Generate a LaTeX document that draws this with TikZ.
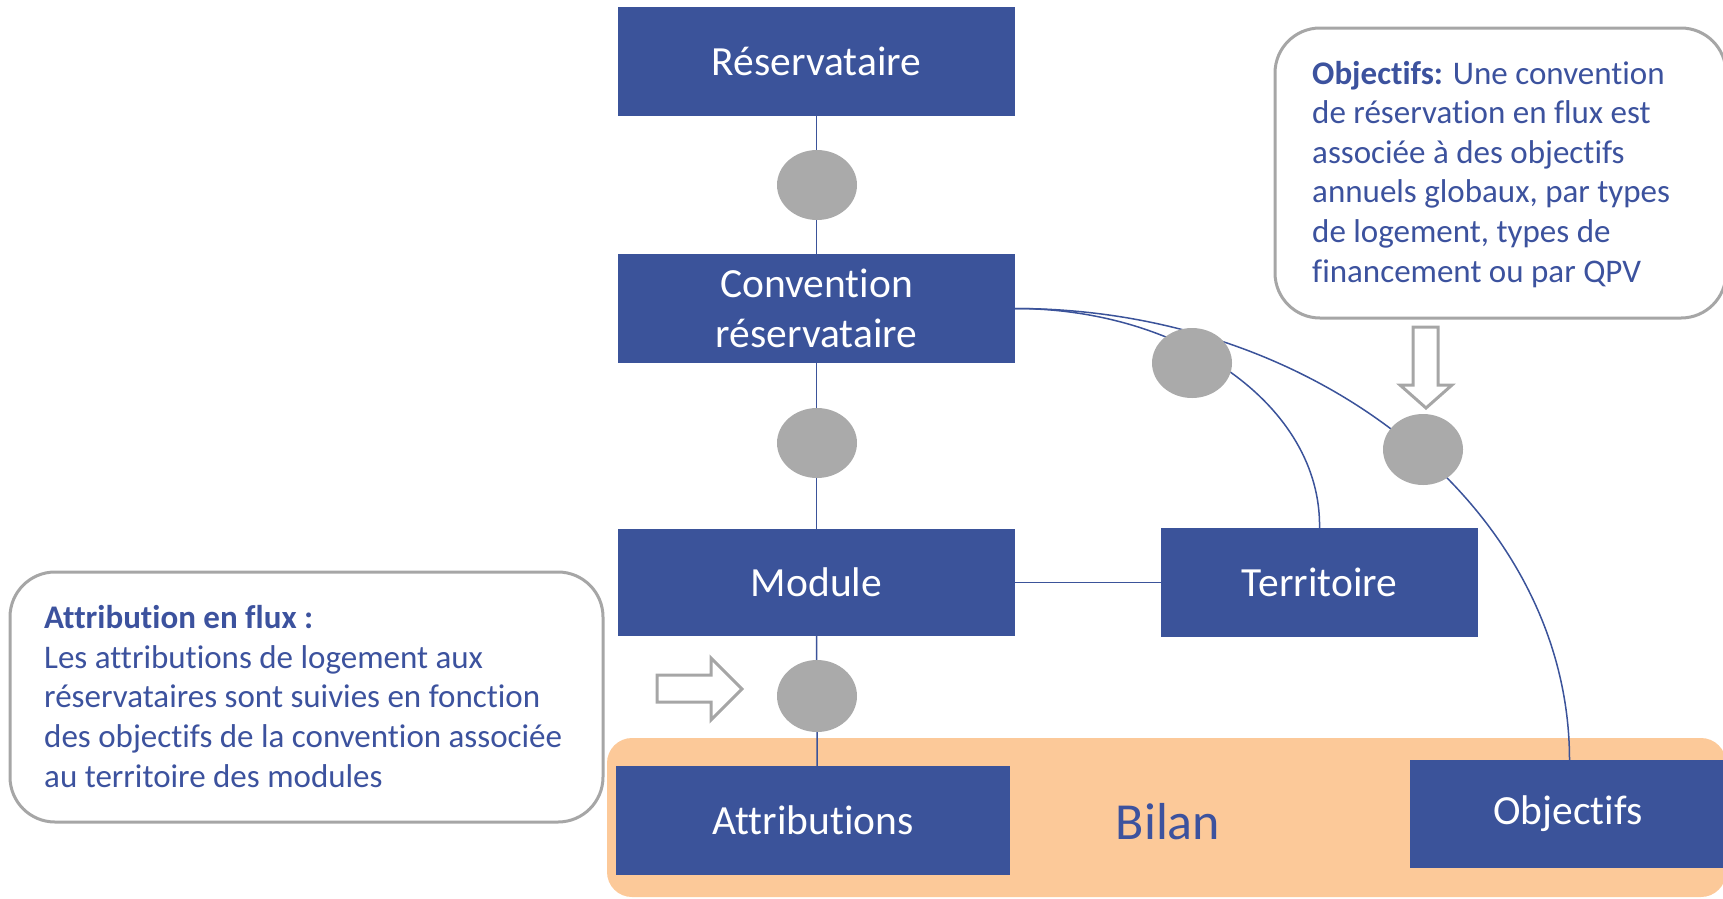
\documentclass[tikz,border=0pt]{standalone}
\usepackage{fontspec}
\setmainfont{Carlito}[Ligatures=NoCommon]
\usetikzlibrary{shapes.geometric}
\definecolor{boxblue}{RGB}{59,83,154}
\definecolor{txtblue}{RGB}{60,82,158}
\definecolor{peach}{RGB}{252,201,153}
\definecolor{dotgray}{RGB}{170,170,170}
\definecolor{callgray}{RGB}{166,166,166}
\tikzset{
  entity/.style={fill=boxblue, text=white, font=\fontsize{41.5}{50}\selectfont, inner sep=0pt, align=center},
  joint/.style={ellipse, fill=dotgray, inner sep=0pt},
  link/.style={draw=boxblue, line width=1.5pt},
  callout/.style={draw=callgray, line width=3pt, rounded corners=45pt, fill=white},
  hollow/.style={draw=callgray, line width=3pt, fill=white, line join=miter},
  note/.style={text=txtblue, font=\fontsize{33}{39.6}\selectfont, align=left, inner sep=0pt, anchor=base west},
}
\begin{document}
\begin{tikzpicture}[x=1pt,y=-1pt]
\useasboundingbox (0,0) rectangle (1723,898);
\begin{scope}
\clip (0,0) rectangle (1723,898);
% Bilan background
\fill[peach, rounded corners=25pt] (607,738) rectangle (1726,897);
\node[text=txtblue, font=\fontsize{52}{60}\selectfont, inner sep=0pt] (bilan) at (1168,822) {Bilan};
% callouts
\draw[callout] (1275,28) rectangle (1726,318);
\draw[callout] (10,572) rectangle (603,822);
\node[note] (noteobj) at (1312,282) {\textbf{Objectifs:} Une convention\\de réservation en flux est\\associée à des objectifs\\annuels globaux, par types\\de logement, types de\\financement ou par QPV};
\node[note] (noteattr) at (44,787) {\textbf{Attribution en flux :}\\Les attributions de logement aux\\réservataires sont suivies en fonction\\des objectifs de la convention associée\\au territoire des modules};
% hollow arrows
\draw[hollow] (657,675) -- (711,675) -- (711,658) -- (742,689) -- (711,720) -- (711,702) -- (657,702) -- cycle;
\draw[hollow] (1413,327) -- (1438,327) -- (1438,385) -- (1452,385) -- (1426,408) -- (1400,385) -- (1413,385) -- cycle;
% entities
\node[entity, minimum width=397pt, minimum height=109pt] (res) at (816.5,61.5) {Réservataire};
\node[entity, minimum width=397pt, minimum height=109pt] (conv) at (816.5,308.5) {Convention\\réservataire};
\node[entity, minimum width=397pt, minimum height=107pt] (mod) at (816.5,582.5) {Module};
\node[entity, minimum width=317pt, minimum height=109pt] (terr) at (1319.5,582.5) {Territoire};
\node[entity, minimum width=394pt, minimum height=109pt] (attr) at (813,820.5) {Attributions};
\node[entity, minimum width=316pt, minimum height=108pt] (obj) at (1568,814) {Objectifs};
\coordinate (objtop) at (1569.5,760);
% connectors
\draw[link] (res) -- (conv);
\draw[link] (conv) -- (mod);
\draw[link] (mod.south) -- (817,696) -- (attr.north -| 817,0);
\draw[link] (mod) -- (terr);
\draw[link] (conv.east) .. controls (1184,308.5) and (1321.5,407) .. (terr.north);
\draw[link] (conv.east) .. controls (1320,308.5) and (1569.5,512) .. (objtop);
% joints
\node[joint, minimum width=80pt, minimum height=70pt] (j1) at (817,185) {};
\node[joint, minimum width=80pt, minimum height=70pt] (j2) at (817,443) {};
\node[joint, minimum width=80pt, minimum height=70pt] (j3) at (1192,363) {};
\node[joint, minimum width=80pt, minimum height=71pt] (j4) at (1423,449.5) {};
\node[joint, minimum width=80pt, minimum height=72pt] (j5) at (817,696) {};
\end{scope}
\end{tikzpicture}
\end{document}
